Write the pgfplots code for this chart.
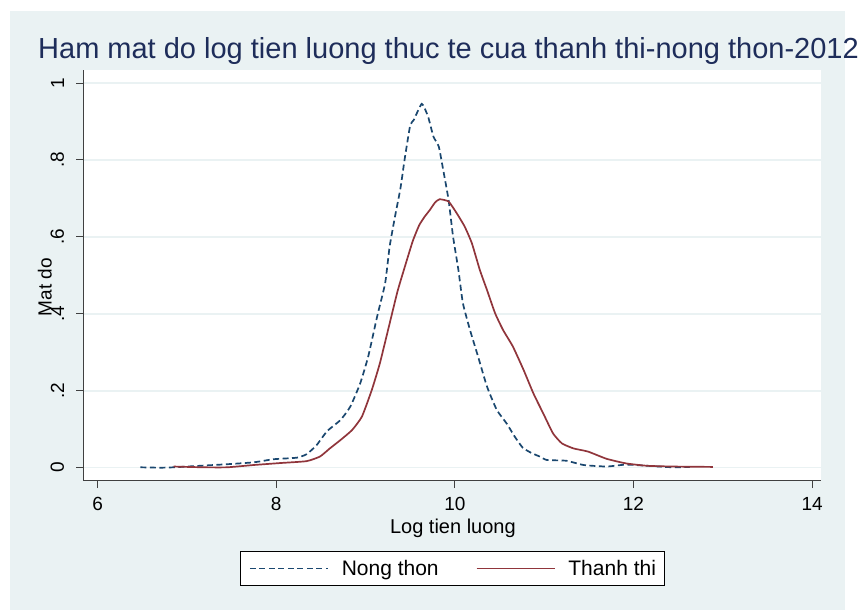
\documentclass[border=0pt]{standalone}
\usepackage{fontspec}
\setmainfont{Liberation Sans}
\usepackage{pgfplots}
\pgfplotsset{compat=1.18}
\definecolor{bgray}{RGB}{234,242,243}
\definecolor{snavy}{RGB}{26,71,111}
\definecolor{smaroon}{RGB}{144,53,59}
\definecolor{tnavy}{RGB}{30,45,90}
\begin{document}
\begin{tikzpicture}
\useasboundingbox (0,0) rectangle (867pt,610pt);
\fill[white] (0,0) rectangle (867pt,610pt);
\fill[bgray] (10pt,0pt) rectangle (845pt,599pt);
\begin{axis}[
  at={(83.3pt,129pt)}, anchor=south west,
  scale only axis, width=737.7pt, height=411pt,
  xmin=5.84, xmax=14.1, ymin=-0.0346, ymax=1.034,
  axis x line*=bottom, axis y line*=left,
  axis line style={black!75, line width=1pt, -},
  tick align=outside, major tick length=7pt,
  tick style={black!75, line width=1pt},
  xtick={6,8,10,12,14}, ytick={0,0.2,0.4,0.6,0.8,1},
  yticklabels={0,.2,.4,.6,.8,1},
  /pgf/number format/assume math mode=true,
  ticklabel style={font=\fontsize{19}{22}\selectfont, text=black},
  xticklabel style={yshift=-7pt, inner ysep=2pt},
  yticklabel style={xshift=-10pt, rotate=90, anchor=south, inner ysep=2pt},
  ymajorgrids, grid style={bgray, line width=1.5pt},
  axis background/.style={fill=white},
  xlabel={Log tien luong},
  xlabel style={at={(axis description cs:0.501,-0.0925)}, anchor=north, inner sep=0pt, font=\fontsize{20}{23}\selectfont},
  ylabel={Mat do},
  ylabel style={at={(axis description cs:-0.052,0.472)}, anchor=center, rotate=0, inner sep=0pt, font=\fontsize{19}{22}\selectfont},
  title={Ham mat do log tien luong thuc te cua thanh thi-nong thon-2012},
  title style={at={(axis description cs:-0.0614,1.0144)}, anchor=base west, font=\fontsize{29}{32}\selectfont, text=tnavy, inner sep=0pt},
  legend columns=2,
  legend image code/.code={\draw[#1] (0pt,0pt) -- (78pt,0pt);},
  legend style={at={(axis description cs:0.5005,-0.2129)}, anchor=center, draw=black, line width=0.8pt, fill=white,
    inner xsep=8.5pt, inner ysep=9pt, nodes={inner sep=0pt},
    font=\fontsize{21}{24}\selectfont,
    /tikz/every odd column/.append style={column sep=13pt},
    /tikz/every even column/.append style={column sep=37pt}},
]
\addplot[snavy, line width=1.7pt, dash pattern=on 6pt off 3.5pt, smooth, tension=0.3] coordinates {
(6.48,0.001) (6.70,0.000) (6.85,0.001) (7.15,0.005) (7.45,0.009) (7.75,0.014) (7.97,0.022)
(8.23,0.026) (8.34,0.035) (8.45,0.058) (8.57,0.095) (8.72,0.124) (8.83,0.159) (8.94,0.219)
(9.03,0.289) (9.13,0.393) (9.22,0.480) (9.27,0.575) (9.33,0.653) (9.39,0.725) (9.44,0.805)
(9.50,0.890) (9.54,0.904) (9.63,0.946) (9.70,0.913) (9.76,0.861) (9.82,0.835) (9.87,0.774)
(9.93,0.696) (9.98,0.601) (10.04,0.514) (10.09,0.428) (10.17,0.358) (10.26,0.289) (10.36,0.211)
(10.47,0.150) (10.58,0.115) (10.67,0.081) (10.76,0.052) (10.86,0.038) (10.95,0.029) (11.03,0.020)
(11.25,0.018) (11.44,0.007) (11.70,0.003) (11.92,0.008) (12.22,0.004) (12.44,0.001) (12.63,0.002)
};
\addplot[smaroon, line width=1.7pt, smooth, tension=0.3] coordinates {
(6.85,0.003) (7.19,0.001) (7.45,0.001) (7.75,0.007) (8.04,0.012) (8.34,0.017) (8.49,0.029)
(8.60,0.050) (8.72,0.072) (8.85,0.098) (8.96,0.133) (9.07,0.202) (9.16,0.271) (9.27,0.375)
(9.36,0.460) (9.45,0.530) (9.53,0.590) (9.60,0.630) (9.66,0.652) (9.72,0.670) (9.78,0.690)
(9.83,0.698) (9.93,0.692) (10.02,0.662) (10.11,0.627) (10.19,0.584) (10.28,0.514) (10.36,0.462)
(10.45,0.402) (10.54,0.358) (10.65,0.315) (10.77,0.254) (10.88,0.193) (10.99,0.141) (11.10,0.089)
(11.20,0.063) (11.33,0.050) (11.49,0.042) (11.70,0.023) (11.92,0.011) (12.15,0.005) (12.44,0.003)
(12.89,0.002)
};
\legend{Nong thon, Thanh thi}
\end{axis}
\end{tikzpicture}
\end{document}
